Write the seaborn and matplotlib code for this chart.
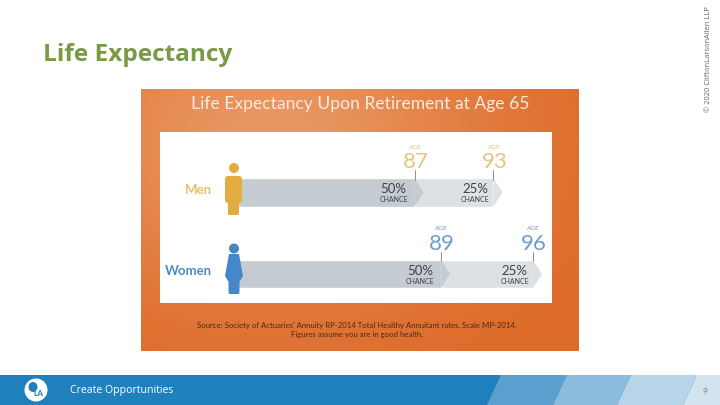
import numpy as np
import pandas as pd
import matplotlib
matplotlib.use("Agg")
import matplotlib.pyplot as plt
from matplotlib.colors import LinearSegmentedColormap
from matplotlib.patches import Circle, FancyBboxPatch, Ellipse, Polygon
import seaborn as sns

groups = ["Men", "Women"]
age_50 = [87, 89]
age_25 = [93, 96]
chance_labels = ["50%", "25%"]
slide_title = "Life Expectancy"
image_title = "Life Expectancy Upon Retirement at Age 65"
source_lines = ["Source: Society of Actuaries' Annuity RP-2014 Total Healthy Annuitant rates, Scale MP-2014.",
                "Figures assume you are in good health."]
footer_text = "Create Opportunities"
copyright_text = "© 2020 CliftonLarsonAllen LLP"
page_number = "9"

sns.set_theme(style="white")
plt.rcParams["font.family"] = ["Lato", "DejaVu Sans"]

W, H = 720, 405
fig = plt.figure(figsize=(7.2, 4.05), dpi=100, facecolor="white")


def px_axes(x0, y0, x1, y1, z):
    a = fig.add_axes([x0 / W, 1 - y1 / H, (x1 - x0) / W, (y1 - y0) / H], zorder=z)
    a.set_axis_off()
    return a


# Base layer in pixel coordinates
bg = px_axes(0, 0, W, H, 1)
bg.set_xlim(0, W)
bg.set_ylim(H, 0)

# Orange photo background
yy, xx = np.mgrid[0:1:120j, 0:1:200j]
glow = np.exp(-(((xx - 0.3) / 0.5) ** 2 + ((yy - 0.2) / 0.6) ** 2))
orange = LinearSegmentedColormap.from_list("o", ["#DD6A28", "#E99762"])
bg.imshow(glow, extent=(141, 579, 351, 89), cmap=orange, vmin=0, vmax=1, aspect="auto", zorder=1)
bg.add_patch(plt.Rectangle((160, 132), 392, 171, fc="white", ec="none", zorder=2))
bg.set_xlim(0, W)
bg.set_ylim(H, 0)

# Footer band
bg.add_patch(plt.Rectangle((0, 375), W, 30, fc="#2080BE", ec="none", zorder=1))
for x0, x1, c in [(487, 553, "#5AA0CF"), (553, 617, "#8BBBDD"), (617, 683, "#B8D4E9"), (683, 720, "#D3E3F0")]:
    bg.add_patch(Polygon([(x0, 405), (x0 + 14, 375), (x1 + 14, 375), (x1, 405)], fc=c, ec="none", zorder=2))
bg.add_patch(plt.Rectangle((696, 375), 24, 30, fc="#D3E3F0", ec="none", zorder=2))

# Bars: age axis positioned so that the ages fall on the reference pixels
bars = px_axes(238, 150, 560, 320, 2)
px_per_year = 13.15
age_at = lambda px: 87 + (px - 414.5) / px_per_year
df = pd.DataFrame({"group": groups, "age_50": age_50, "age_25": age_25})
sns.barplot(data=df, y="group", x="age_25", color="#DDE1E4", saturation=1, width=0.35, ax=bars, zorder=2)
sns.barplot(data=df, y="group", x="age_50", color="#C5CCD1", saturation=1, width=0.35, ax=bars, zorder=4)
half = 0.175
tip = 0.7
for i, (a50, a25) in enumerate(zip(age_50, age_25)):
    bars.add_patch(Polygon([(a25, i - half), (a25 + tip, i), (a25, i + half)], fc="#DDE1E4", ec="none", zorder=2))
    bars.add_patch(Polygon([(a50, i - half), (a50 + tip, i), (a50, i + half)], fc="#C5CCD1", ec="none", zorder=4))
    group_color = "#E6C47C" if i == 0 else "#6F9DCB"
    for age, chance, shift in [(a50, chance_labels[0], -21), (a25, chance_labels[1], -18)]:
        bars.plot([age, age], [i - half - 0.1, i - half + 0.02], color="#8A9096", lw=0.7, zorder=6, clip_on=False)
        bars.annotate(str(age), (age, i), xytext=(1, 30), textcoords="offset pixels", ha="center",
                      va="center", fontsize=16, color=group_color, fontweight="normal", zorder=7)
        bars.annotate("AGE", (age, i), xytext=(1, 45), textcoords="offset pixels", ha="center",
                      va="center", fontsize=4.6, color=group_color, zorder=7)
        bars.annotate(chance, (age, i), xytext=(shift, 3), textcoords="offset pixels", ha="center",
                      va="center", fontsize=9.5, color="#3E4245", zorder=7)
        bars.annotate("CHANCE", (age, i), xytext=(shift, -7), textcoords="offset pixels", ha="center",
                      va="center", fontsize=5, color="#3E4245", zorder=7)
bars.set_xlim(age_at(238), age_at(560))
bars.set_ylim((320 - 192.5) / 81.5, (150 - 192.5) / 81.5)
bars.set_axis_off()

# Top layer: people, labels, headings
top = px_axes(0, 0, W, H, 3)
top.set_xlim(0, W)
top.set_ylim(H, 0)
gold = "#E3AC41"
blue = "#4488C8"
top.add_patch(Circle((234, 168), 5, fc=gold, ec="none"))
top.add_patch(FancyBboxPatch((228, 179), 11, 21, boxstyle="round,pad=3", fc=gold, ec="none"))
top.add_patch(FancyBboxPatch((229.5, 196), 8, 17.5, boxstyle="round,pad=1.5", fc=gold, ec="none"))
top.add_patch(Circle((234, 248.5), 5, fc=blue, ec="none"))
top.add_patch(Polygon([(229, 254), (239, 254), (243, 276), (240, 281), (228, 281), (225, 276)], fc=blue, ec="none"))
top.add_patch(FancyBboxPatch((230, 278), 8, 14.5, boxstyle="round,pad=1.5", fc=blue, ec="none"))

top.text(212, 190.5, groups[0], ha="right", va="center", fontsize=9.5, fontweight="bold", color="#E6BE6E")
top.text(212, 271, groups[1], ha="right", va="center", fontsize=9.5, fontweight="bold", color="#4F8CC4")
top.text(360, 104, image_title, ha="center", va="center", fontsize=12.6, color="#FBE9DD")
top.text(357, 325, source_lines[0], ha="center", va="center", fontsize=5.6, color="#4A2A18")
top.text(357, 335, source_lines[1], ha="center", va="center", fontsize=5.6, color="#4A2A18")

top.text(43, 55, slide_title, ha="left", va="center", fontsize=17.6, fontweight="bold",
         color="#7A9A45", family=["Open Sans", "DejaVu Sans"])
top.text(70, 391, footer_text, ha="left", va="center", fontsize=7.6, color="white",
         family=["Open Sans", "DejaVu Sans"])
top.text(705, 392, page_number, ha="center", va="center", fontsize=6, color="#6F7980")
top.text(708, 112, copyright_text, rotation=90, ha="center", va="bottom", fontsize=5.4, color="#5E6468",
         family=["Open Sans", "DejaVu Sans"])

# Logo
top.add_patch(Circle((36, 390), 11.5, fc="white", ec="none"))
top.add_patch(Ellipse((33, 387), 9, 10, fc="#2080BE", ec="none"))
top.text(38, 394, "LA", ha="center", va="center", fontsize=6, fontweight="bold", color="#2080BE")

fig.savefig("out.png", dpi=100, facecolor="white")
